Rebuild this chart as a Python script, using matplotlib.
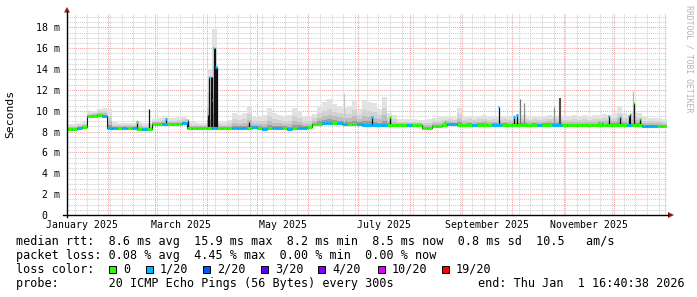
import numpy as np
import matplotlib
matplotlib.use("Agg")
import matplotlib.pyplot as plt
from matplotlib.collections import LineCollection
from matplotlib.patches import Polygon, Rectangle
from matplotlib.lines import Line2D

# ---------------- data ----------------
# time axis in days since 2025-01-01 00:00
x_start, x_end = 6.25, 365.7

median_ms = [
    8.25, 8.25, 8.30, 8.40, 9.45, 9.45, 9.60, 9.45, 8.35, 8.30,
    8.30, 8.30, 8.30, 8.30, 8.25, 8.20, 8.25, 8.70, 8.70, 8.75,
    8.70, 8.70, 8.70, 8.85, 8.35, 8.30, 8.30, 8.30, 8.30, 8.30,
    8.30, 8.30, 8.30, 8.30, 8.30, 8.30, 8.35, 8.40, 8.35, 8.25,
    8.35, 8.35, 8.35, 8.35, 8.25, 8.35, 8.35, 8.35, 8.40, 8.70,
    8.75, 8.80, 8.85, 8.85, 8.80, 8.75, 8.70, 8.70, 8.70, 8.65,
    8.65, 8.60, 8.60, 8.60, 8.65, 8.60, 8.60, 8.60, 8.60, 8.60,
    8.60, 8.35, 8.35, 8.55, 8.55, 8.65, 8.70, 8.70, 8.65, 8.65,
    8.65, 8.65, 8.65, 8.65, 8.65, 8.65, 8.65, 8.65, 8.65, 8.65,
    8.65, 8.65, 8.60, 8.65, 8.65, 8.65, 8.65, 8.65, 8.65, 8.60,
    8.60, 8.60, 8.60, 8.60, 8.65, 8.60, 8.60, 8.60, 8.65, 8.60,
    8.65, 8.65, 8.60, 8.65, 8.60, 8.50, 8.50, 8.50, 8.50, 8.50,
]

loss_idx = [
    0, 0, 1, 0, 0, 0, 0, 1, 1, 1,
    0, 1, 0, 1, 0, 1, 0, 0, 0, 1,
    0, 0, 0, 1, 0, 0, 0, 0, 0, 1,
    0, 0, 0, 1, 1, 1, 0, 1, 0, 1,
    0, 1, 1, 0, 1, 0, 1, 1, 0, 0,
    0, 1, 1, 0, 1, 1, 0, 0, 1, 1,
    1, 1, 1, 1, 0, 0, 0, 0, 1, 0,
    0, 0, 0, 0, 0, 0, 1, 1, 0, 0,
    0, 1, 0, 0, 0, 1, 1, 0, 0, 0,
    0, 0, 0, 0, 1, 0, 0, 1, 1, 0,
    0, 0, 0, 0, 0, 0, 0, 0, 0, 0,
    0, 0, 1, 0, 0, 1, 1, 1, 0, 0,
]

smoke_hi_ms = [
    8.70, 8.75, 8.85, 8.95, 9.90, 10.00, 10.20, 10.30, 10.20, 8.90,
    8.85, 8.85, 8.85, 8.85, 9.00, 8.80, 8.85, 9.25, 9.30, 9.40,
    9.30, 9.30, 9.35, 9.40, 8.95, 8.90, 8.85, 8.85, 14.00, 17.80,
    8.95, 8.90, 9.10, 9.80, 9.60, 9.80, 10.50, 9.40, 9.50, 9.60,
    10.30, 9.80, 9.60, 9.40, 9.60, 10.30, 10.00, 9.50, 9.40, 9.70,
    10.40, 10.80, 11.10, 10.60, 10.50, 10.30, 10.40, 11.00, 10.20, 11.00,
    10.80, 10.70, 10.20, 11.30, 9.80, 9.60, 9.20, 9.20, 9.20, 9.20,
    9.10, 9.10, 9.20, 9.30, 9.40, 9.40, 9.50, 9.40, 10.30, 9.40,
    9.50, 9.40, 9.50, 9.60, 9.40, 9.50, 9.40, 9.50, 9.40, 9.60,
    9.50, 9.60, 9.40, 9.50, 9.40, 9.50, 9.60, 9.50, 9.60, 9.40,
    9.50, 9.60, 9.50, 9.60, 9.40, 9.60, 9.60, 9.70, 9.60, 9.80,
    10.40, 9.80, 9.60, 10.00, 9.80, 9.40, 9.30, 9.30, 9.30, 9.20,
]

# short median excursions (day, top in ms, loss class of the top; -1 = none)
spike_day = [48.2, 55.3, 65.6, 78.5, 91.0, 91.6, 92.3, 92.9, 93.4, 94.2, 94.8, 95.5, 95.9,
             115.3, 189.0, 200.0, 233.0, 265.0, 274.2, 276.0, 325.1, 327.2, 331.0,
             338.0, 343.0, 344.0, 346.0, 350.0]
spike_top = [8.9, 10.16, 9.2, 9.1, 9.6, 13.2, 13.2, 13.2, 11.0, 16.0, 16.0, 14.2, 14.2,
             8.9, 9.37, 9.37, 8.95, 10.38, 9.4, 9.6, 8.9, 8.85, 9.5,
             9.37, 9.45, 9.7, 10.7, 9.2]
spike_loss = [0, -1, 1, 1, -1, 1, -1, -1, 1, 1, -1, 1, -1,
              -1, 1, 0, 0, 1, 1, 1, 0, 1, 1,
              1, 1, 0, 0, 0]

# isolated smoke streaks (day, top in ms)
streak_day = [172.4, 277.6, 280.4, 298.0, 302.0, 345.8]
streak_top = [11.7, 11.1, 10.7, 10.4, 11.25, 11.9]

month_start_day = [31, 59, 90, 120, 151, 181, 212, 243, 273, 304, 334, 365]
label_day = [15.5, 74.5, 135.5, 196.5, 258.0, 319.0]
label_text = ["January 2025", "March 2025", "May 2025", "July 2025",
              "September 2025", "November 2025"]
y_tick_vals = [0, 2, 4, 6, 8, 10, 12, 14, 16, 18]
y_tick_text = ["0  ", "2 m", "4 m", "6 m", "8 m", "10 m", "12 m", "14 m", "16 m", "18 m"]

loss_names = ["0", "1/20", "2/20", "3/20", "4/20", "10/20", "19/20"]
loss_colors = ["#26ff00", "#00b8ff", "#0059ff", "#5e00ff", "#7e00ff", "#dd00ff", "#ff0000"]

line_rtt = "median rtt:  8.6 ms avg  15.9 ms max  8.2 ms min  8.5 ms now  0.8 ms sd  10.5   am/s"
line_loss = "packet loss: 0.08 % avg  4.45 % max  0.00 % min  0.00 % now"
line_color = "loss color:"
line_probe = "probe:       20 ICMP Echo Pings (56 Bytes) every 300s"
line_end = "end: Thu Jan  1 16:40:38 2026"

# ---------------- figure ----------------
W, H = 697, 297
MONO = "DejaVu Sans Mono"
fig = plt.figure(figsize=(W / 100, H / 100), dpi=100)
fig.patch.set_facecolor("white")

def fx(px):
    return px / W

def fy(py):
    return 1 - py / H

ax_left, ax_right, ax_bottom, ax_top = 67, 666.5, 215, 12.7
ax = fig.add_axes([fx(ax_left), fy(ax_bottom), (ax_right - ax_left) / W, (ax_bottom - ax_top) / H])
ax.set_xlim(x_start, x_end)
ax.set_ylim(0, 19.4)
ax.set_facecolor("white")
for s in ax.spines.values():
    s.set_visible(False)

# grid
minor_c = "#cfcfcf"
major_c = "#eea3a3"
dots = (0, (1, 1))
for k in range(1, 39):
    v = k * 0.5
    if abs(v / 2 - round(v / 2)) < 1e-6:
        ax.axhline(v, color=major_c, lw=0.75, ls=dots, zorder=1)
    else:
        ax.axhline(v, color=minor_c, lw=0.75, ls=dots, zorder=0.5)
for d in np.arange(4, 366, 7):
    if d > x_start and d not in month_start_day:
        ax.axvline(d, color=minor_c, lw=0.75, ls=dots, zorder=0.5)
for d in month_start_day:
    ax.axvline(d, color=major_c, lw=0.75, ls=dots, zorder=1)

# bins
n = len(median_ms)
edges = np.linspace(x_start, x_start + n * 3.0, n + 1)
med = np.array(median_ms)
hi = np.array(smoke_hi_ms)
med_ext = np.append(med, med[-1])
hi_ext = np.append(hi, hi[-1])
lo_ext = med_ext - 0.15

# smoke layers (density gradient)
for frac, col in [(1.0, "#e2e2e2"), (0.6, "#d2d2d2"), (0.35, "#bebebe"), (0.15, "#9c9c9c")]:
    ax.fill_between(edges, lo_ext, med_ext + frac * (hi_ext - med_ext), step="post",
                    color=col, lw=0, zorder=2)

# smoke streaks
streak_col = ["#c8c8c8", "#707070", "#8a8a8a", "#909090", "#505050", "#bbbbbb"]
streak_w = [0.9, 0.9, 0.9, 0.9, 1.5, 0.9]
for d, t, c, w in zip(streak_day, streak_top, streak_col, streak_w):
    b = med[min(int((d - x_start) / 3.0), n - 1)]
    ax.vlines(d, b, t, color=c, lw=w, zorder=2.5)

# black median step line
ax.step(edges, med_ext, where="post", color="#1a1a1a", lw=0.8, zorder=3)

# spikes
for d, t, li in zip(spike_day, spike_top, spike_loss):
    b = med[min(int((d - x_start) / 3.0), n - 1)]
    ax.vlines(d, b, t, color="#111111", lw=0.9, zorder=3)
    if li >= 0:
        ax.hlines(t, d - 0.45, d + 0.45, color=loss_colors[li], lw=2.0, zorder=4)

# colored median segments
segs = [[(edges[i], med[i]), (edges[i + 1], med[i])] for i in range(n)]
cols = [loss_colors[k] for k in loss_idx]
ax.add_collection(LineCollection(segs, colors=cols, linewidths=2.2, zorder=4, capstyle="butt"))

# ticks
ax.set_yticks(y_tick_vals)
ax.set_yticklabels(y_tick_text, fontfamily=MONO, fontsize=7.1)
ax.set_xticks(label_day)
ax.set_xticklabels(label_text, fontfamily=MONO, fontsize=7.1)
ax.tick_params(axis="y", length=0, pad=5.2)
ax.tick_params(axis="x", length=0, pad=3.3)

# axes lines with arrows
fig.add_artist(Line2D([fx(67), fx(67)], [fy(217), fy(12)], color="black", lw=1.0))
fig.add_artist(Line2D([fx(63), fx(668)], [fy(215), fy(215)], color="black", lw=1.0))
arrow_c = "#8b1a1a"
fig.add_artist(Polygon([(fx(64), fy(12.5)), (fx(70), fy(12.5)), (fx(67), fy(7))],
                       closed=True, color=arrow_c, lw=0))
fig.add_artist(Polygon([(fx(668), fy(212)), (fx(668), fy(218)), (fx(674), fy(215))],
                       closed=True, color=arrow_c, lw=0))

# y label
fig.text(fx(10.5), fy(113.5), "Seconds", rotation=90, ha="center", va="center",
         fontfamily=MONO, fontsize=8.2)
# watermark
fig.text(fx(689), fy(5), "RRDTOOL / TOBI OETIKER", rotation=270, ha="center", va="top",
         fontfamily=MONO, fontsize=5.9, color="#b4b4b4")

# legend lines
LF = 8.5
fig.text(fx(16), fy(244.5), line_rtt, fontfamily=MONO, fontsize=LF, va="baseline")
fig.text(fx(16), fy(258.8), line_loss, fontfamily=MONO, fontsize=LF, va="baseline")
fig.text(fx(16), fy(272.8), line_color, fontfamily=MONO, fontsize=LF, va="baseline")
fig.text(fx(16), fy(286.8), line_probe, fontfamily=MONO, fontsize=LF, va="baseline")
fig.text(fx(478.3), fy(286.8), line_end, fontfamily=MONO, fontsize=LF, va="baseline")

box_x = [109.3, 146.0, 203.0, 260.7, 318.0, 378.0, 442.0]
for bx, name, col in zip(box_x, loss_names, loss_colors):
    fig.add_artist(Rectangle((fx(bx), fy(273.2)), 7.2 / W, 7.4 / H, facecolor=col,
                             edgecolor="black", lw=0.7))
    fig.text(fx(bx + 14), fy(272.8), name, fontfamily=MONO, fontsize=LF, va="baseline")

fig.savefig("out.png", dpi=100, facecolor="white")
